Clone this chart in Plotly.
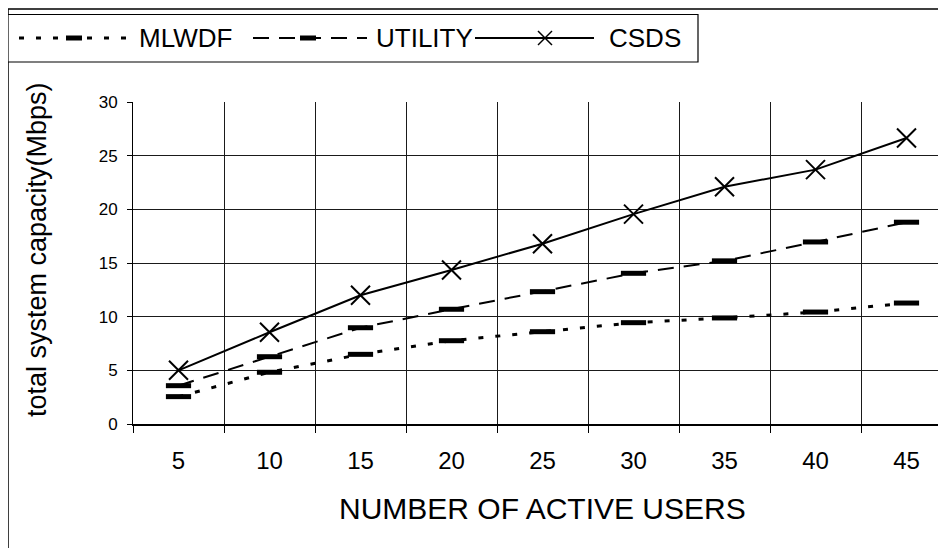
import plotly.graph_objects as go

# ---- data ----
users = ["5", "10", "15", "20", "25", "30", "35", "40", "45"]
mlwdf = [2.55, 4.82, 6.49, 7.76, 8.6, 9.44, 9.88, 10.43, 11.27]
utility = [3.57, 6.27, 8.97, 10.69, 12.33, 14.04, 15.2, 16.96, 18.8]
csds = [5.0, 8.55, 12.0, 14.35, 16.8, 19.55, 22.1, 23.7, 26.65]
series_names = ["MLWDF", "UTILITY", "CSDS"]
y_ticks = [0, 5, 10, 15, 20, 25, 30]

# ---- geometry (screen pixels; the page body adds an 8px offset) ----
OFF = 8
WIDTH, HEIGHT = 946, 548
L_S, T_S, B_S = 133, 102, 424          # plot box on screen
L, T, B = L_S - OFF, T_S - OFF, B_S - OFF
R = WIDTH                               # plot runs to the right edge of the figure
PW, PH = R - L, B - T
CAT_W = 91.0


def px(x):  # screen x -> paper
    return (x - OFF - L) / PW


def py(y):  # screen y -> paper
    return (B - (y - OFF)) / PH


FONT = "Liberation Sans, Arial, sans-serif"

fig = go.Figure()
fig.add_trace(go.Scatter(
    x=users, y=mlwdf, name=series_names[0], mode="lines+markers",
    line=dict(color="black", width=3, dash="5px,12px"),
    marker=dict(symbol="line-ew", size=18, line=dict(color="black", width=5)),
))
fig.add_trace(go.Scatter(
    x=users, y=utility, name=series_names[1], mode="lines+markers",
    line=dict(color="black", width=2, dash="16px,10px"),
    marker=dict(symbol="line-ew", size=18, line=dict(color="black", width=5)),
))
fig.add_trace(go.Scatter(
    x=users, y=csds, name=series_names[2], mode="lines+markers",
    line=dict(color="black", width=2),
    marker=dict(symbol="x-thin", size=19, line=dict(color="black", width=2)),
))

x_end = -0.5 + PW / CAT_W

fig.update_layout(
    width=WIDTH, height=HEIGHT,
    margin=dict(l=L, r=WIDTH - R, t=T, b=HEIGHT - B, pad=0),
    paper_bgcolor="white", plot_bgcolor="white",
    showlegend=False,
    font=dict(family=FONT, color="black"),
    xaxis=dict(
        type="category", categoryorder="array", categoryarray=users,
        range=[-0.5, x_end], tickson="boundaries",
        showgrid=True, gridcolor="#1a1a1a", gridwidth=1,
        showline=True, linecolor="black", linewidth=1.5,
        ticks="outside", ticklen=7, tickcolor="black", tickwidth=1,
        tickfont=dict(size=24, family=FONT, color="black"),
        ticklabelstandoff=14,
        zeroline=False, fixedrange=True,
    ),
    yaxis=dict(
        range=[0, 30], tickvals=y_ticks, ticktext=[str(v) for v in y_ticks],
        showgrid=True, gridcolor="#1a1a1a", gridwidth=1,
        showline=True, linecolor="black", linewidth=1,
        ticks="outside", ticklen=5, tickcolor="black", tickwidth=1,
        tickfont=dict(size=17, family=FONT, color="black"),
        ticklabelstandoff=6,
        zeroline=False, fixedrange=True,
    ),
)

# ---- titles ----
fig.add_annotation(text="NUMBER OF ACTIVE USERS", xref="paper", yref="paper",
                   x=px(542), y=py(508), xanchor="center", yanchor="middle",
                   showarrow=False, font=dict(size=30, family=FONT, color="black"))
fig.add_annotation(text="total system capacity(Mbps)", xref="paper", yref="paper",
                   x=px(37), y=py(250), xanchor="center", yanchor="middle",
                   textangle=-90, showarrow=False,
                   font=dict(size=27, family=FONT, color="black"))

shapes = []
# outer chart border
shapes.append(dict(type="rect", xref="paper", yref="paper",
                   x0=px(8), x1=px(970), y0=py(9), y1=py(570),
                   line=dict(color="black", width=1.5), fillcolor="rgba(0,0,0,0)", layer="above"))
# legend box
shapes.append(dict(type="rect", xref="paper", yref="paper",
                   x0=px(8), x1=px(698), y0=py(14.5), y1=py(62),
                   line=dict(color="black", width=1.2), fillcolor="white", layer="above"))

LY = 38
legend_items = [
    # (line x0, x1, marker center, text left, dash, line width, marker)
    (19, 126, 74, 137, "5px,12px", 3, "bar"),
    (253, 367, 308, 374, "16px,10px", 2, "bar"),
    (475, 594, 545, 607, "solid", 2, "x"),
]
for (x0, x1, mc, tx, dash, lw, mk), name in zip(legend_items, series_names):
    shapes.append(dict(type="line", xref="paper", yref="paper",
                       x0=px(x0), x1=px(x1), y0=py(LY), y1=py(LY),
                       line=dict(color="black", width=lw, dash=dash), layer="above"))
    if mk == "bar":
        shapes.append(dict(type="line", xref="paper", yref="paper",
                           x0=px(mc - 8), x1=px(mc + 8), y0=py(LY), y1=py(LY),
                           line=dict(color="black", width=5), layer="above"))
    else:
        h = 7
        shapes.append(dict(type="line", xref="paper", yref="paper",
                           x0=px(mc - h), x1=px(mc + h), y0=py(LY - h), y1=py(LY + h),
                           line=dict(color="black", width=1.5), layer="above"))
        shapes.append(dict(type="line", xref="paper", yref="paper",
                           x0=px(mc - h), x1=px(mc + h), y0=py(LY + h), y1=py(LY - h),
                           line=dict(color="black", width=1.5), layer="above"))
    fig.add_annotation(text=name, xref="paper", yref="paper",
                       x=px(tx), y=py(LY), xanchor="left", yanchor="middle",
                       showarrow=False, font=dict(size=26, family=FONT, color="black"))

fig.update_layout(shapes=shapes)
fig.write_html("out.html")
